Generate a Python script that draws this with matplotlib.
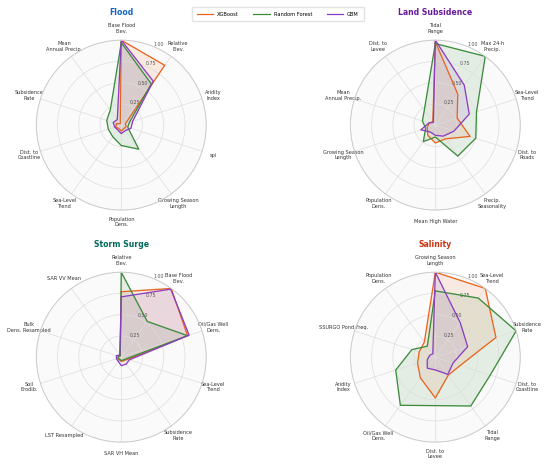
import numpy as np
import matplotlib
matplotlib.use("Agg")
import matplotlib.pyplot as plt

MODELS = ["XGBoost", "Random Forest", "GBM"]
MODEL_COLORS = ["#E8641E", "#3A8B3A", "#8A3DBF"]

flood_labels = ["Base Flood\nElev.", "Relative\nElev.", "Aridity\nIndex", "spi",
                "Growing Season\nLength", "Population\nDens.", "Sea-Level\nTrend",
                "Dist. to\nCoastline", "Subsidence\nRate", "Mean\nAnnual Precip."]
flood_xgb = [1.00, 0.87, 0.05, 0.06, 0.05, 0.07, 0.05, 0.07, 0.06, 0.02]
flood_rf = [0.97, 0.60, 0.10, 0.08, 0.35, 0.24, 0.17, 0.16, 0.18, 0.22]
flood_gbm = [1.00, 0.64, 0.14, 0.12, 0.08, 0.10, 0.07, 0.08, 0.10, 0.08]

subs_labels = ["Tidal\nRange", "Max 24-h\nPrecip.", "Sea-Level\nTrend", "Dist. to\nRoads",
               "Precip.\nSeasonality", "Mean High Water", "Population\nDens.",
               "Growing Season\nLength", "Mean\nAnnual Precip.", "Dist. to\nLevee"]
subs_xgb = [0.98, 0.45, 0.27, 0.43, 0.20, 0.21, 0.15, 0.10, 0.08, 0.05]
subs_rf = [0.96, 1.00, 0.51, 0.50, 0.45, 0.14, 0.24, 0.12, 0.16, 0.22]
subs_gbm = [1.00, 0.58, 0.42, 0.23, 0.16, 0.12, 0.10, 0.18, 0.08, 0.04]

surge_labels = ["Relative\nElev.", "Base Flood\nElev.", "Oil/Gas Well\nDens.", "Sea-Level\nTrend",
                "Subsidence\nRate", "SAR VH Mean", "LST Resampled", "Soil\nErodib.",
                "Bulk\nDens. Resampled", "SAR VV Mean"]
surge_xgb = [0.77, 1.00, 0.82, 0.08, 0.05, 0.05, 0.04, 0.04, 0.04, 0.02]
surge_rf = [1.00, 0.52, 0.82, 0.06, 0.04, 0.04, 0.03, 0.04, 0.03, 0.02]
surge_gbm = [0.71, 0.99, 0.84, 0.10, 0.10, 0.10, 0.06, 0.06, 0.06, 0.03]

sal_labels = ["Growing Season\nLength", "Sea-Level\nTrend", "Subsidence\nRate",
              "Dist. to\nCoastline", "Tidal\nRange", "Dist. to\nLevee", "Oil/Gas Well\nDens.",
              "Aridity\nIndex", "SSURGO Pond Freq.", "Population\nDens."]
sal_xgb = [1.00, 1.00, 0.75, 0.31, 0.26, 0.48, 0.30, 0.22, 0.20, 0.22]
sal_rf = [0.78, 0.86, 1.00, 0.68, 0.71, 0.57, 0.70, 0.49, 0.29, 0.16]
sal_gbm = [1.00, 0.50, 0.40, 0.22, 0.25, 0.15, 0.16, 0.10, 0.07, 0.05]

PANELS = [
    ("Flood", "#1565C0", flood_labels, [flood_xgb, flood_rf, flood_gbm]),
    ("Land Subsidence", "#6A1B9A", subs_labels, [subs_xgb, subs_rf, subs_gbm]),
    ("Storm Surge", "#00695C", surge_labels, [surge_xgb, surge_rf, surge_gbm]),
    ("Salinity", "#CC3311", sal_labels, [sal_xgb, sal_rf, sal_gbm]),
]

# axes rectangles in figure fraction (left, bottom, width, height)
RECTS = [
    (0.066, 0.549, 0.309, 0.365),
    (0.637, 0.549, 0.309, 0.365),
    (0.066, 0.051, 0.309, 0.365),
    (0.637, 0.051, 0.309, 0.365),
]


def draw_radar(ax, title, title_color, labels, series):
    n = len(labels)
    angles = np.linspace(0, 2 * np.pi, n, endpoint=False)
    closed = np.concatenate([angles, angles[:1]])
    ax.set_theta_offset(np.pi / 2)
    ax.set_theta_direction(-1)
    ax.set_facecolor("#fafafa")
    for vals, name, color in zip(series, MODELS, MODEL_COLORS):
        v = np.concatenate([vals, vals[:1]])
        ax.plot(closed, v, color=color, linewidth=0.9, label=name)
        ax.fill(closed, v, color=color, alpha=0.11)
    ax.set_ylim(0, 1.0)
    ax.set_yticks([0.25, 0.5, 0.75, 1.0])
    ax.set_yticklabels(["0.25", "0.50", "0.75", "1.00"], fontsize=3.4, color="#555555")
    ax.set_xticks(angles)
    ax.set_xticklabels(labels, fontsize=3.6, color="#333333")
    ax.tick_params(axis="x", pad=-2)
    ax.grid(color="#dddddd", linewidth=0.5)
    ax.spines["polar"].set_color("#cccccc")
    ax.spines["polar"].set_linewidth(0.7)
    ax.set_title(title, color=title_color, fontsize=5.6, fontweight="bold", y=1.15, pad=0)


def main() -> None:
    fig = plt.figure(figsize=(5.5, 4.66), dpi=100)
    axes = []
    for rect, (title, tcolor, labels, series) in zip(RECTS, PANELS):
        ax = fig.add_axes(rect, projection="polar")
        draw_radar(ax, title, tcolor, labels, series)
        axes.append(ax)

    handles, names = axes[0].get_legend_handles_labels()
    fig.legend(handles, names, loc="upper center", bbox_to_anchor=(0.505, 0.99),
               ncol=3, fontsize=3.7, frameon=True, edgecolor="#dddddd",
               handlelength=3.2, columnspacing=2.8, borderpad=0.9)
    fig.savefig("out.png", dpi=100)


if __name__ == "__main__":
    main()
